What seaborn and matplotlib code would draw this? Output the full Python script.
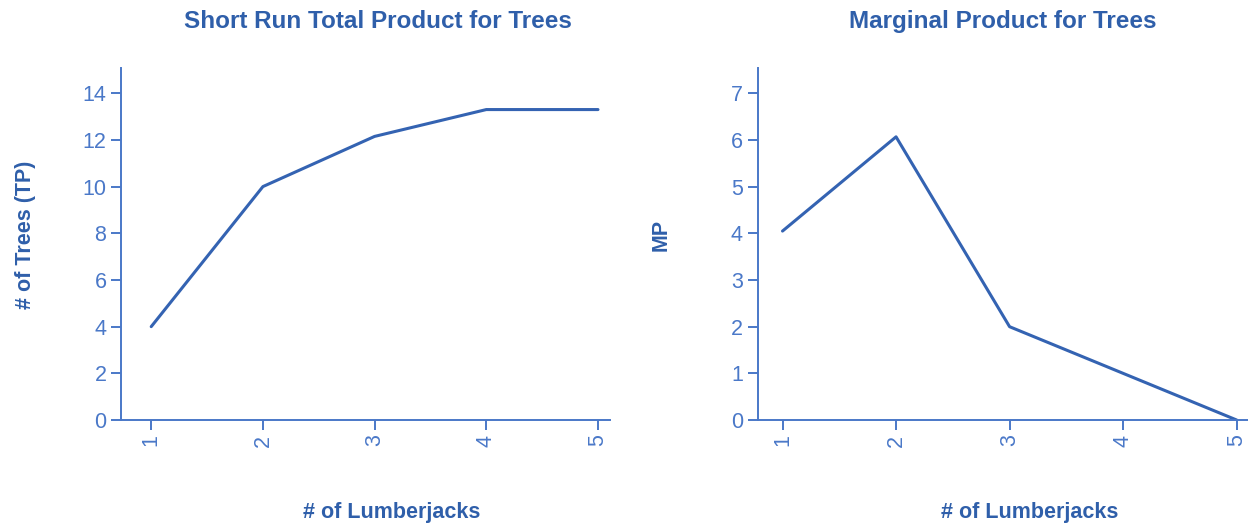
import matplotlib

matplotlib.use("Agg")
import matplotlib.pyplot as plt
import pandas as pd
import seaborn as sns

# data
LUMBERJACKS = [1, 2, 3, 4, 5]
TOTAL_PRODUCT = [4.0, 10.0, 12.15, 13.3, 13.3]
MARGINAL_PRODUCT = [4.05, 6.07, 2.0, 1.0, 0.0]

TP_TICKS = [0, 2, 4, 6, 8, 10, 12, 14]
MP_TICKS = [0, 1, 2, 3, 4, 5, 6, 7]

TITLE_BLUE = "#2f5faa"
AXIS_BLUE = "#4a78c8"
LINE_BLUE = "#3463b2"

sns.set_theme(style="white")
plt.rcParams["font.family"] = ["Liberation Sans", "DejaVu Sans"]

df = pd.DataFrame({"workers": LUMBERJACKS, "tp": TOTAL_PRODUCT, "mp": MARGINAL_PRODUCT})

fig = plt.figure(figsize=(12.48, 5.25), dpi=100)
ax_tp = fig.add_axes([0.097, 0.2, 0.392, 0.670])
ax_mp = fig.add_axes([0.607, 0.2, 0.393, 0.670])


def _style(ax, yticks, ylim, xlim, title, ylabel, title_x, ylabel_x):
    ax.set_ylim(*ylim)
    ax.set_xlim(*xlim)
    ax.set_yticks(yticks)
    ax.set_xticks(LUMBERJACKS)
    ax.set_xticklabels([str(v) for v in LUMBERJACKS], rotation=90)
    sns.despine(ax=ax)
    for side in ("left", "bottom"):
        ax.spines[side].set_color(AXIS_BLUE)
        ax.spines[side].set_linewidth(1.4)
    ax.tick_params(axis="both", colors=AXIS_BLUE, labelsize=15.5, length=7, width=1.4,
                   direction="out", bottom=True, left=True)
    ax.set_title(title, color=TITLE_BLUE, fontsize=17.5, fontweight="bold", x=title_x, pad=29)
    ax.set_xlabel("# of Lumberjacks", color=TITLE_BLUE, fontsize=15.5, fontweight="bold")
    ax.xaxis.set_label_coords(0.554, -0.232)
    ax.set_ylabel(ylabel, color=TITLE_BLUE, fontsize=15.5, fontweight="bold")
    ax.yaxis.set_label_coords(ylabel_x, 0.526)


sns.lineplot(df, x="workers", y="tp", ax=ax_tp, color=LINE_BLUE, lw=2.2)
_style(ax_tp, TP_TICKS, (0, 15.07), (0.73, 5.11),
       "Short Run Total Product for Trees", "# of Trees (TP)", 0.526, -0.173)

sns.lineplot(df, x="workers", y="mp", ax=ax_mp, color=LINE_BLUE, lw=2.2)
_style(ax_mp, MP_TICKS, (0, 7.54), (0.78, 5.1),
       "Marginal Product for Trees", "MP", 0.5, -0.176)

fig.savefig("out.png", dpi=100)
